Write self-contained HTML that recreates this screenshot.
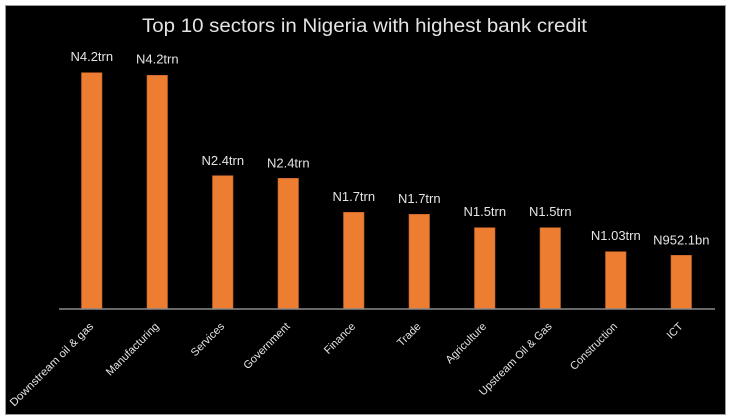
<!DOCTYPE html>
<html>
<head>
<meta charset="utf-8">
<style>
  html, body { margin: 0; padding: 0; background: #ffffff; }
  body { width: 730px; height: 419px; overflow: hidden; }
  svg { display: block; }
  text { font-family: "Liberation Sans", sans-serif; fill: #e4e4e4; }
</style>
</head>
<body>
<svg width="730" height="419" viewBox="0 0 730 419" xmlns="http://www.w3.org/2000/svg">
  <rect x="0" y="0" width="730" height="419" fill="#ffffff"/>
  <rect x="5.5" y="5.5" width="720" height="409" fill="#000000" stroke="#9a9a9a" stroke-width="1"/>

  <text x="142" y="32" font-size="19" textLength="445" lengthAdjust="spacingAndGlyphs">Top 10 sectors in Nigeria with highest bank credit</text>

  <g fill="#ED7D31" stroke="#c0602a" stroke-width="0.6">
    <rect x="81.5" y="72.7" width="20.5" height="236.3"/>
    <rect x="147" y="75.3" width="20.5" height="233.7"/>
    <rect x="212.5" y="175.7" width="20.5" height="133.3"/>
    <rect x="278" y="178.3" width="20.5" height="130.7"/>
    <rect x="343.5" y="212.3" width="20.5" height="96.7"/>
    <rect x="409" y="214.3" width="20.5" height="94.7"/>
    <rect x="474.5" y="227.7" width="20.5" height="81.3"/>
    <rect x="540" y="227.7" width="20.5" height="81.3"/>
    <rect x="605.5" y="251.7" width="20.5" height="57.3"/>
    <rect x="671" y="255.3" width="20.5" height="53.7"/>
  </g>

  <line x1="59" y1="309" x2="715" y2="309" stroke="#8a8a8a" stroke-width="1.5"/>

  <g font-size="13" text-anchor="middle">
    <text x="91.8" y="61">N4.2trn</text>
    <text x="157.3" y="63.5">N4.2trn</text>
    <text x="222.8" y="165">N2.4trn</text>
    <text x="288.3" y="167.5">N2.4trn</text>
    <text x="353.8" y="201">N1.7trn</text>
    <text x="419.3" y="203">N1.7trn</text>
    <text x="484.8" y="216">N1.5trn</text>
    <text x="550.3" y="216">N1.5trn</text>
    <text x="615.8" y="240">N1.03trn</text>
    <text x="681.3" y="244.5">N952.1bn</text>
  </g>

  <g font-size="11" text-anchor="end">
    <text transform="translate(94,327) rotate(-45)" textLength="113" lengthAdjust="spacingAndGlyphs">Downstream oil &amp; gas</text>
    <text transform="translate(159.5,327) rotate(-45)">Manufacturing</text>
    <text transform="translate(225,327) rotate(-45)">Services</text>
    <text transform="translate(290.5,327) rotate(-45)">Government</text>
    <text transform="translate(356,327) rotate(-45)">Finance</text>
    <text transform="translate(421.5,327) rotate(-45)">Trade</text>
    <text transform="translate(487,327) rotate(-45)">Agriculture</text>
    <text transform="translate(552.5,327) rotate(-45)">Upstream Oil &amp; Gas</text>
    <text transform="translate(618,327) rotate(-45)">Construction</text>
    <text transform="translate(683.5,327) rotate(-45)">ICT</text>
  </g>
</svg>
</body>
</html>
